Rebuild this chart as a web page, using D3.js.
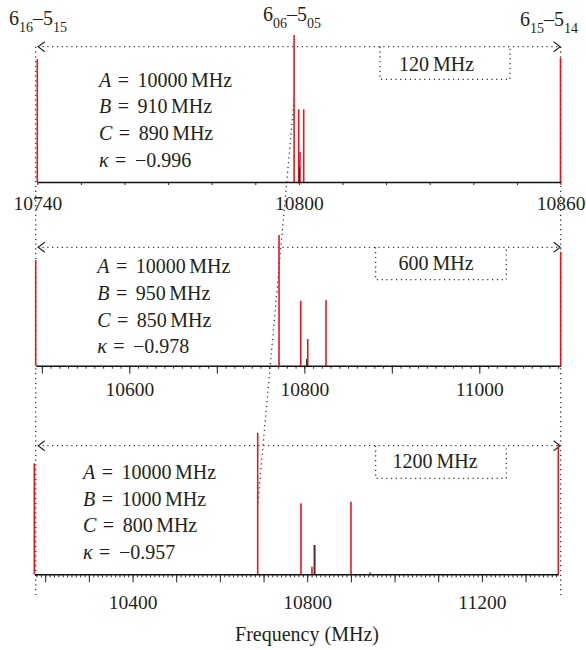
<!DOCTYPE html>
<html>
<head>
<meta charset="utf-8">
<script src="https://cdn.jsdelivr.net/npm/d3@7"></script>
<style>
  body { margin: 0; background: #fff; }
  svg { display: block; font-family: "Liberation Serif", "Times New Roman", serif; fill: #231f20; }
  .dot { stroke: #333; stroke-width: 1.3; stroke-dasharray: 1.2 3.6; fill: none; }
</style>
</head>
<body>
<div class="vis"></div>
<script>
// panel domains (MHz)
const p1Domain = [10740, 10860];
const p2Domain = [10493, 11093];
const p3Domain = [10175, 11375];

// red stick spectra: frequency (MHz) and relative intensity
const p1Freq = [10740, 10798.9, 10799.95, 10801.1, 10800.25, 10860];
const p1Int = [0.82, 0.98, 0.485, 0.485, 0.2, 0.827];
const p2Freq = [10493, 10771.1, 10795.9, 10824.8, 10803.9, 11093];
const p2Int = [0.705, 0.871, 0.433, 0.436, 0.178, 0.76];
const p3Freq = [10175, 10686.6, 10785.7, 10900.2, 10810.9, 10816.2, 11375];
const p3Int = [0.74, 0.944, 0.473, 0.484, 0.05, 0.195, 0.862];

// dark (overlapping) sticks
const p1DarkFreq = [10800.1];
const p1DarkInt = [0.1];
const p2DarkFreq = [10802.7];
const p2DarkInt = [0.045];
const p3DarkFreq = [10817.5, 10943.7];
const p3DarkInt = [0.195, 0.013];

// tick labels
const p1Ticks = [10740, 10800, 10860];
const p2Ticks = [10600, 10800, 11000];
const p3Ticks = [10400, 10800, 11200];

// rotational constants shown in each panel
const paramNames = ["A", "B", "C", "κ"];
const p1Params = ["10000", "910", "890", "−0.996"];
const p2Params = ["10000", "950", "850", "−0.978"];
const p3Params = ["10000", "1000", "800", "−0.957"];
const spanLabels = ["120 MHz", "600 MHz", "1200 MHz"];

// transition labels: [v1, sub1, v2, sub2]
const transLeft = ["6", "16", "5", "15"];
const transMid = ["6", "06", "5", "05"];
const transRight = ["6", "15", "5", "14"];

// 6_06-5_05 line position used for the connecting dotted line
const linkTop = [10798.9, 0.547];
const linkBottom = [10686.6, 0.462];

const W = 586, H = 650;
const svg = d3.select(".vis").append("svg").attr("width", W).attr("height", H);

const panels = [
  { domain: p1Domain, range: [37.3, 560.5], base: 182, arrow: 46.7, freq: p1Freq, int: p1Int,
    dFreq: p1DarkFreq, dInt: p1DarkInt, ticks: p1Ticks, major: null, pad: 14.2,
    params: p1Params, px: 99, py: 86.7, box: [380, 510, 79.3], bx: 436.6, by: 71 },
  { domain: p2Domain, range: [35.7, 560.7], base: 365.7, arrow: 247.3, freq: p2Freq, int: p2Int,
    dFreq: p2DarkFreq, dInt: p2DarkInt, ticks: p2Ticks, major: 100, pad: 16.5,
    params: p2Params, px: 97.2, py: 273.3, box: [375.6, 506.3, 279.7], bx: 436, by: 270 },
  { domain: p3Domain, range: [34.3, 558.3], base: 574.3, arrow: 445.7, freq: p3Freq, int: p3Int,
    dFreq: p3DarkFreq, dInt: p3DarkInt, ticks: p3Ticks, major: 100, pad: 20.9,
    params: p3Params, px: 83, py: 479, box: [375.6, 506.3, 478.3], bx: 435, by: 468.3 }
];

panels.forEach((p, i) => {
  p.x = d3.scaleLinear().domain(p.domain).range(p.range);
  p.y = d3.scaleLinear().domain([0, 1]).range([p.base, p.base - 150]);
});

// vertical dotted guides at the K=1 doublet positions
const mid = panels[1];
[mid.domain[0], mid.domain[1]].forEach((f) => {
  svg.append("line").attr("class", "dot")
    .attr("x1", mid.x(f)).attr("x2", mid.x(f))
    .attr("y1", panels[0].arrow).attr("y2", 598);
});

// slanted dotted line following the 6_06-5_05 line
svg.append("line").attr("class", "dot")
  .attr("x1", panels[0].x(linkTop[0])).attr("y1", panels[0].y(linkTop[1]))
  .attr("x2", panels[2].x(linkBottom[0])).attr("y2", panels[2].y(linkBottom[1]));

panels.forEach((p, i) => {
  const g = svg.append("g");
  const [xl, xr] = p.range;

  // span arrow
  g.append("line").attr("class", "dot")
    .attr("x1", mid.x(mid.domain[0]) + 2).attr("x2", mid.x(mid.domain[1]) - 2)
    .attr("y1", p.arrow).attr("y2", p.arrow);
  const ax0 = mid.x(mid.domain[0]) + 2.5, ax1 = mid.x(mid.domain[1]) - 0.5;
  g.append("path").attr("fill", "none").attr("stroke", "#231f20").attr("stroke-width", 1.1)
    .attr("d", `M${ax0 + 6.5},${p.arrow - 5}L${ax0},${p.arrow}L${ax0 + 6.5},${p.arrow + 5}`);
  g.append("path").attr("fill", "none").attr("stroke", "#231f20").attr("stroke-width", 1.1)
    .attr("d", `M${ax1 - 6.5},${p.arrow - 5}L${ax1},${p.arrow}L${ax1 - 6.5},${p.arrow + 5}`);

  // span box
  g.append("path").attr("class", "dot")
    .attr("d", `M${p.box[0]},${p.arrow}V${p.box[2]}H${p.box[1]}V${p.arrow}`);
  g.append("text").attr("x", p.bx).attr("y", p.by).attr("text-anchor", "middle")
    .style("font-size", "20px").text(spanLabels[i].replace(" ", "\u2009"));

  // parameters
  p.params.forEach((v, j) => {
    const t = g.append("text").attr("x", p.px).attr("y", p.py + j * 26.6).style("font-size", "20px");
    t.append("tspan").style("font-style", "italic").text(paramNames[j]);
    t.append("tspan").attr("dx", 6.5).text("=");
    t.append("tspan").attr("dx", 8.5).text(v);
    if (j < 3) t.append("tspan").attr("dx", 3.5).text("MHz");
  });

  // sticks
  g.append("g").selectAll("line").data(d3.zip(p.freq, p.int)).join("line")
    .attr("x1", (d) => p.x(d[0])).attr("x2", (d) => p.x(d[0]))
    .attr("y1", p.base).attr("y2", (d) => p.y(d[1]))
    .attr("stroke", "#e8161b").attr("stroke-width", 1.6);
  g.append("g").selectAll("line").data(d3.zip(p.dFreq, p.dInt)).join("line")
    .attr("x1", (d) => p.x(d[0])).attr("x2", (d) => p.x(d[0]))
    .attr("y1", p.base).attr("y2", (d) => p.y(d[1]))
    .attr("stroke", "#3a2a2a").attr("stroke-width", 1.3);

  // axis
  const minor = d3.range(Math.ceil(p.domain[0] / 10) * 10, p.domain[1] + 0.01, 10);
  const ax = g.append("g").attr("transform", `translate(0,${p.base})`);
  ax.call(d3.axisBottom(p.x).tickValues(minor).tickSize(3).tickSizeOuter(0).tickFormat(""));
  if (p.major) {
    const major = d3.range(Math.ceil(p.domain[0] / p.major) * p.major, p.domain[1], p.major);
    ax.append("g").call(d3.axisBottom(p.x).tickValues(major).tickSize(8).tickFormat(""))
      .call((s) => s.select(".domain").remove());
  }
  ax.append("g").call(d3.axisBottom(p.x).tickValues(p.ticks).tickSize(0).tickPadding(p.pad).tickFormat(d3.format("d")))
    .call((s) => s.select(".domain").remove())
    .call((s) => s.selectAll("text").style("font-size", "19.5px").style("font-family", "Liberation Serif").attr("fill", "#231f20"));
  ax.selectAll(".tick line").attr("stroke", "#231f20");
  ax.select(".domain").attr("stroke", "#111").attr("stroke-width", 1.6);
});

// transition labels
function transLabel(lab, x, y, anchor) {
  const t = svg.append("text").attr("x", x).attr("y", y).attr("text-anchor", anchor).style("font-size", "20px");
  t.append("tspan").text(lab[0]);
  t.append("tspan").attr("dy", 7).style("font-size", "14px").text(lab[1]);
  t.append("tspan").attr("dy", -7).text("–" + lab[2]);
  t.append("tspan").attr("dy", 7).style("font-size", "14px").text(lab[3]);
}
transLabel(transLeft, 9, 25, "start");
transLabel(transMid, 292, 20.7, "middle");
transLabel(transRight, 578, 25.5, "end");

svg.append("text").attr("x", 307).attr("y", 640.7).attr("text-anchor", "middle")
  .style("font-size", "20px").text("Frequency (MHz)");
</script>
</body>
</html>
